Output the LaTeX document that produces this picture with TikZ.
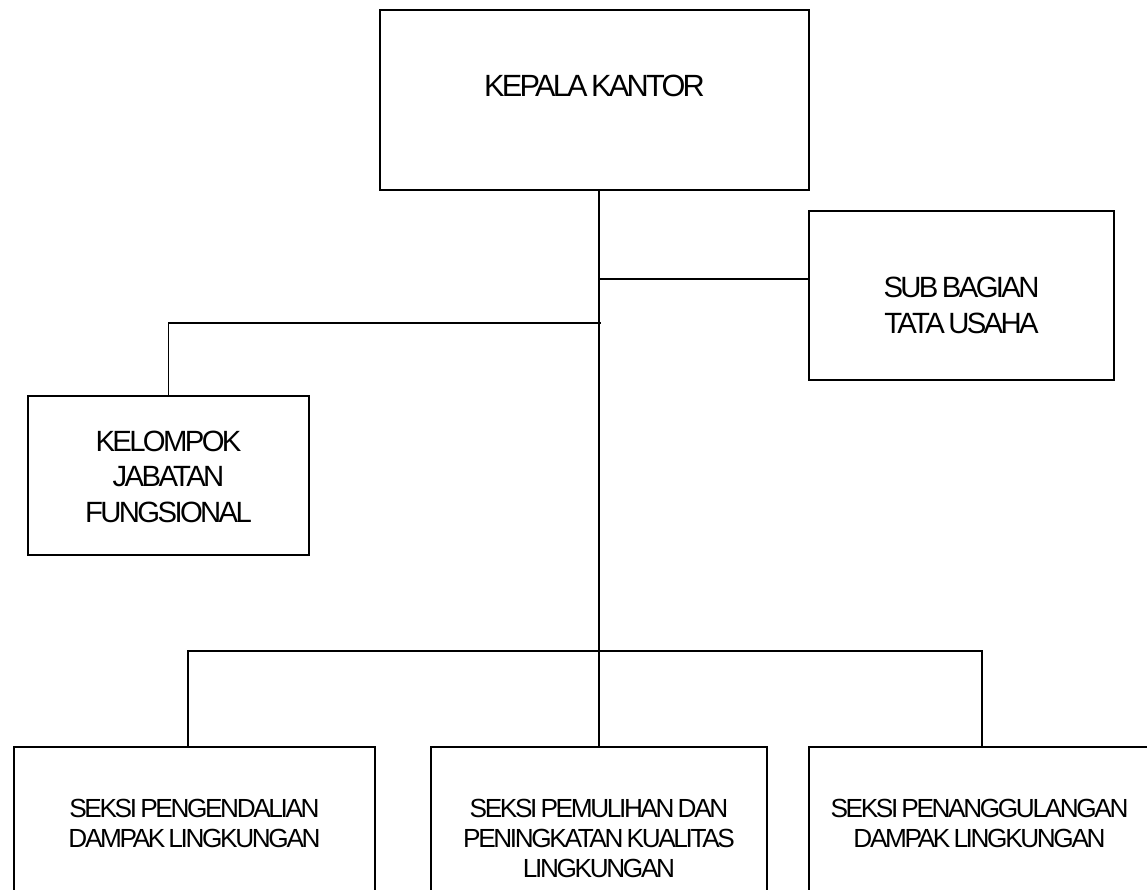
\documentclass[tikz,border=0pt]{standalone}
\usepackage{fontspec}
\usepackage{tikz}
\usetikzlibrary{positioning}
\newfontfamily\orgfont{Liberation Sans}[LetterSpace=-9]
\newcommand{\orgsize}[2]{\orgfont\fontsize{#1}{#2}\selectfont}
\tikzstyle{unit} =
[rectangle, draw=black, line width=1.6pt, text centered, inner sep=0pt,
font=\orgsize{29.3}{35.5}, text height=21pt,
execute at begin node={\spaceskip=0.12em\relax}]
\tikzstyle{seksi} =
[unit, font=\orgsize{26.2}{30}, minimum height=200pt,
text height=18.8pt, text depth=77.2pt]
\tikzstyle{line} = [draw, line width=1.5pt]

\begin{document}
\begin{tikzpicture}[x=1pt, y=-1pt]
  \useasboundingbox (0,0) rectangle (1147,890);
  \clip (0,0) rectangle (1147,890);
  % top level
  \node [unit, minimum width=429pt, minimum height=180pt, text width=400pt,
   font=\orgsize{30.7}{36}, text height=22pt,
   text depth=28pt] (kepala) at (594.5,100) {KEPALA KANTOR};
  \node [unit, below of=kepala, node distance=195.5pt, xshift=367pt,
   minimum width=305pt, minimum height=169pt, text width=280pt,
   text depth=16pt] (subbag) {SUB BAGIAN\\TATA USAHA};
  \node [unit, below of=kepala, node distance=375.5pt, xshift=-426pt,
   minimum width=281pt, minimum height=159pt, text width=260pt,
   text depth=70pt] (kelompok) {KELOMPOK\\JABATAN\\FUNGSIONAL};
  % seksi level
  \node [seksi, below of=kepala, node distance=747pt, xshift=4.5pt,
   minimum width=336pt, text width=320pt] (seksib)
   {SEKSI PEMULIHAN DAN\\PENINGKATAN KUALITAS\\LINGKUNGAN};
  \node [seksi, left of=seksib, node distance=404.5pt,
   minimum width=361pt, text width=340pt] (seksia)
   {SEKSI PENGENDALIAN\\DAMPAK LINGKUNGAN};
  \node [seksi, right of=seksib, node distance=380.5pt,
   minimum width=341pt, text width=330pt] (seksic)
   {SEKSI PENANGGULANGAN\\DAMPAK LINGKUNGAN};
  % joints
  \coordinate (subjoint) at ([yshift=16.5pt]subbag.west);
  \coordinate (kljoint) at ([yshift=72pt]kelompok.north);
  \coordinate (busl) at ([xshift=-6.5pt, yshift=95pt]seksia.north);
  \coordinate (busr) at ([xshift=2.5pt, yshift=95pt]seksic.north);
  % edges
  \path [line] (kepala.south -| seksib.north) -- (seksib.north);
  \path [line] (subjoint) -- (subjoint -| seksib.north);
  \path [line] (kelompok.north) -- (kljoint) -- ([xshift=1.5pt]kljoint -| seksib.north);
  \path [line] (seksia.north -| busl) -- (busl) -- (busr) -- (busr |- seksic.north);
\end{tikzpicture}
\end{document}
